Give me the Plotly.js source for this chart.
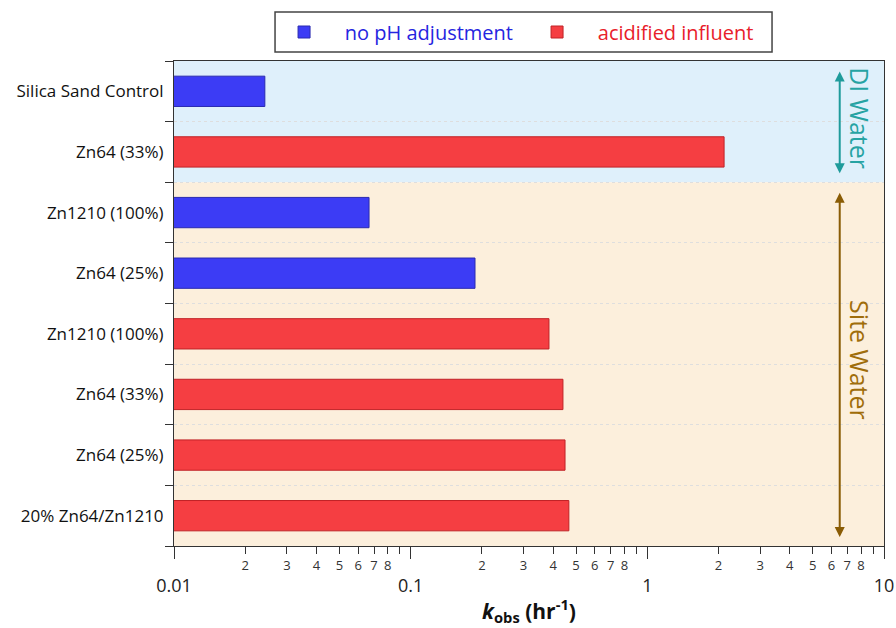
<!DOCTYPE html>
<html>
<head>
<meta charset="utf-8">
<script src="https://cdn.plot.ly/plotly-3.0.1.min.js"></script>
<style>html,body{margin:0;padding:0;background:#fff;}#chart{width:896px;height:628px;}</style>
</head>
<body>
<div id="chart"></div>
<script>
// ---- data ----
var categories = ["Silica Sand Control", "Zn64 (33%)", "Zn1210 (100%)", "Zn64 (25%)",
                  "Zn1210 (100%)", "Zn64 (33%)", "Zn64 (25%)", "20% Zn64/Zn1210"];
var noPhAdjustment = [0.0242, null, 0.0667, 0.187, null, null, null, null];
var acidifiedInfluent = [null, 2.11, null, null, 0.384, 0.44, 0.449, 0.466];
var seriesNames = ["no pH adjustment", "acidified influent"];
var decadeTicks = [0.01, 0.1, 1, 10];
var decadeLabels = ["0.01", "0.1", "1", "10"];
var minorTicks = [], digitTicks = [], digitLabels = [];
[0.01, 0.1, 1].forEach(function (d) {
  for (var k = 2; k <= 9; k++) {
    minorTicks.push(d * k);
    if (k <= 8) { digitTicks.push(d * k); digitLabels.push(String(k)); }
  }
});
var groups = [
  {name: "DI Water", from: 0, to: 1, fill: "#dff0fb", color: "#1f9b9b", textColor: "#26a3a3"},
  {name: "Site Water", from: 2, to: 7, fill: "#fcefdc", color: "#8a5c05", textColor: "#a06d0a"}
];

var pos = categories.map(function (_, i) { return i; });
var FONT = "Open Sans, Lato, DejaVu Sans, sans-serif";
var GAP = "&nbsp;&nbsp;&nbsp;&nbsp;";

var traces = [
  {type: "bar", orientation: "h", name: GAP + '<span style="color:#2525e0">' + seriesNames[0] + '</span>',
   y: pos, x: noPhAdjustment, width: 0.5,
   marker: {color: "#3c3cf5", line: {color: "#2a2ab0", width: 1}}},
  {type: "bar", orientation: "h", name: GAP + '<span style="color:#e8202a">' + seriesNames[1] + '</span>',
   y: pos, x: acidifiedInfluent, width: 0.5,
   marker: {color: "#f53e42", line: {color: "#c02226", width: 1}}},
  {type: "scatter", x: [null], y: [null], xaxis: "x2", yaxis: "y", showlegend: false, hoverinfo: "skip"}
];

var shapes = [], annotations = [];
var arrowX = Math.log10(6.5), textX = Math.log10(7.9);
groups.forEach(function (g) {
  shapes.push({type: "rect", layer: "below", xref: "paper", yref: "y", x0: 0, x1: 1,
               y0: g.from - 0.5, y1: g.to + 0.5, fillcolor: g.fill, line: {width: 0}});
  annotations.push({xref: "x", yref: "y", axref: "x", ayref: "y", x: arrowX, y: g.to + 0.5 - 0.15,
                    ax: arrowX, ay: g.from - 0.5 + 0.15, text: "", showarrow: true,
                    arrowside: "end+start", arrowhead: 2, arrowsize: 1, arrowwidth: 2, arrowcolor: g.color});
  annotations.push({xref: "x", yref: "y", x: textX, y: (g.from + g.to) / 2 + (g.name === "DI Water" ? -0.06 : -0.07),
                    text: g.name, showarrow: false, textangle: 90,
                    font: {family: FONT, size: 25, color: g.textColor}});
});
// legend frame
shapes.push({type: "rect", xref: "paper", yref: "paper", x0: 0.1423, x1: 0.8423, y0: 1.0186, y1: 1.101,
             line: {color: "#444", width: 1.5}, fillcolor: "rgba(0,0,0,0)"});

var layout = {
  width: 896, height: 628,
  margin: {l: 174, r: 12, t: 61, b: 82},
  paper_bgcolor: "#ffffff", plot_bgcolor: "#ffffff",
  font: {family: FONT, color: "#222"},
  barmode: "overlay",
  showlegend: true,
  legend: {orientation: "h", x: 0.155, xanchor: "left", y: 1.1, yanchor: "top",
           borderwidth: 0, bgcolor: "rgba(0,0,0,0)",
           font: {family: FONT, size: 20}, entrywidth: 208},
  xaxis: {type: "log", range: [-2, 1], tickmode: "array", tickvals: decadeTicks, ticktext: decadeLabels,
          ticks: "outside", ticklen: 12, tickwidth: 1, tickcolor: "#333",
          tickfont: {family: FONT, size: 18, color: "#222"}, ticklabelstandoff: 11,
          showline: true, mirror: true, linecolor: "#333", linewidth: 1, showgrid: false, zeroline: false,
          minor: {tickmode: "array", tickvals: minorTicks, ticks: "outside", ticklen: 7, tickcolor: "#333", showgrid: false},
          title: {text: "<b><i>k</i><sub>obs</sub> (hr<sup>-1</sup>)</b>", font: {family: FONT, size: 21, color: "#111"}, standoff: 8}},
  xaxis2: {type: "log", range: [-2, 1], overlaying: "x", anchor: "y", side: "bottom",
           tickmode: "array", tickvals: digitTicks, ticktext: digitLabels,
           ticks: "outside", ticklen: 7, tickwidth: 1, tickcolor: "#333",
           tickfont: {family: FONT, size: 13, color: "#333"},
           showline: false, showgrid: false, zeroline: false},
  yaxis: {range: [7.5, -0.5], tickmode: "array", tickvals: pos, ticktext: categories,
          ticks: "", tickfont: {family: FONT, size: 17, color: "#111"}, ticklabelstandoff: 6,
          showline: true, mirror: true, linecolor: "#333", linewidth: 1, showgrid: false, zeroline: false,
          minor: {tickmode: "linear", tick0: 0.5, dtick: 1, ticks: "outside", ticklen: 8, tickcolor: "#333",
                  showgrid: true, gridcolor: "#dedede", griddash: "dot", gridwidth: 1}},
  shapes: shapes,
  annotations: annotations
};

Plotly.newPlot("chart", traces, layout, {displayModeBar: false, staticPlot: true});
</script>
</body>
</html>
